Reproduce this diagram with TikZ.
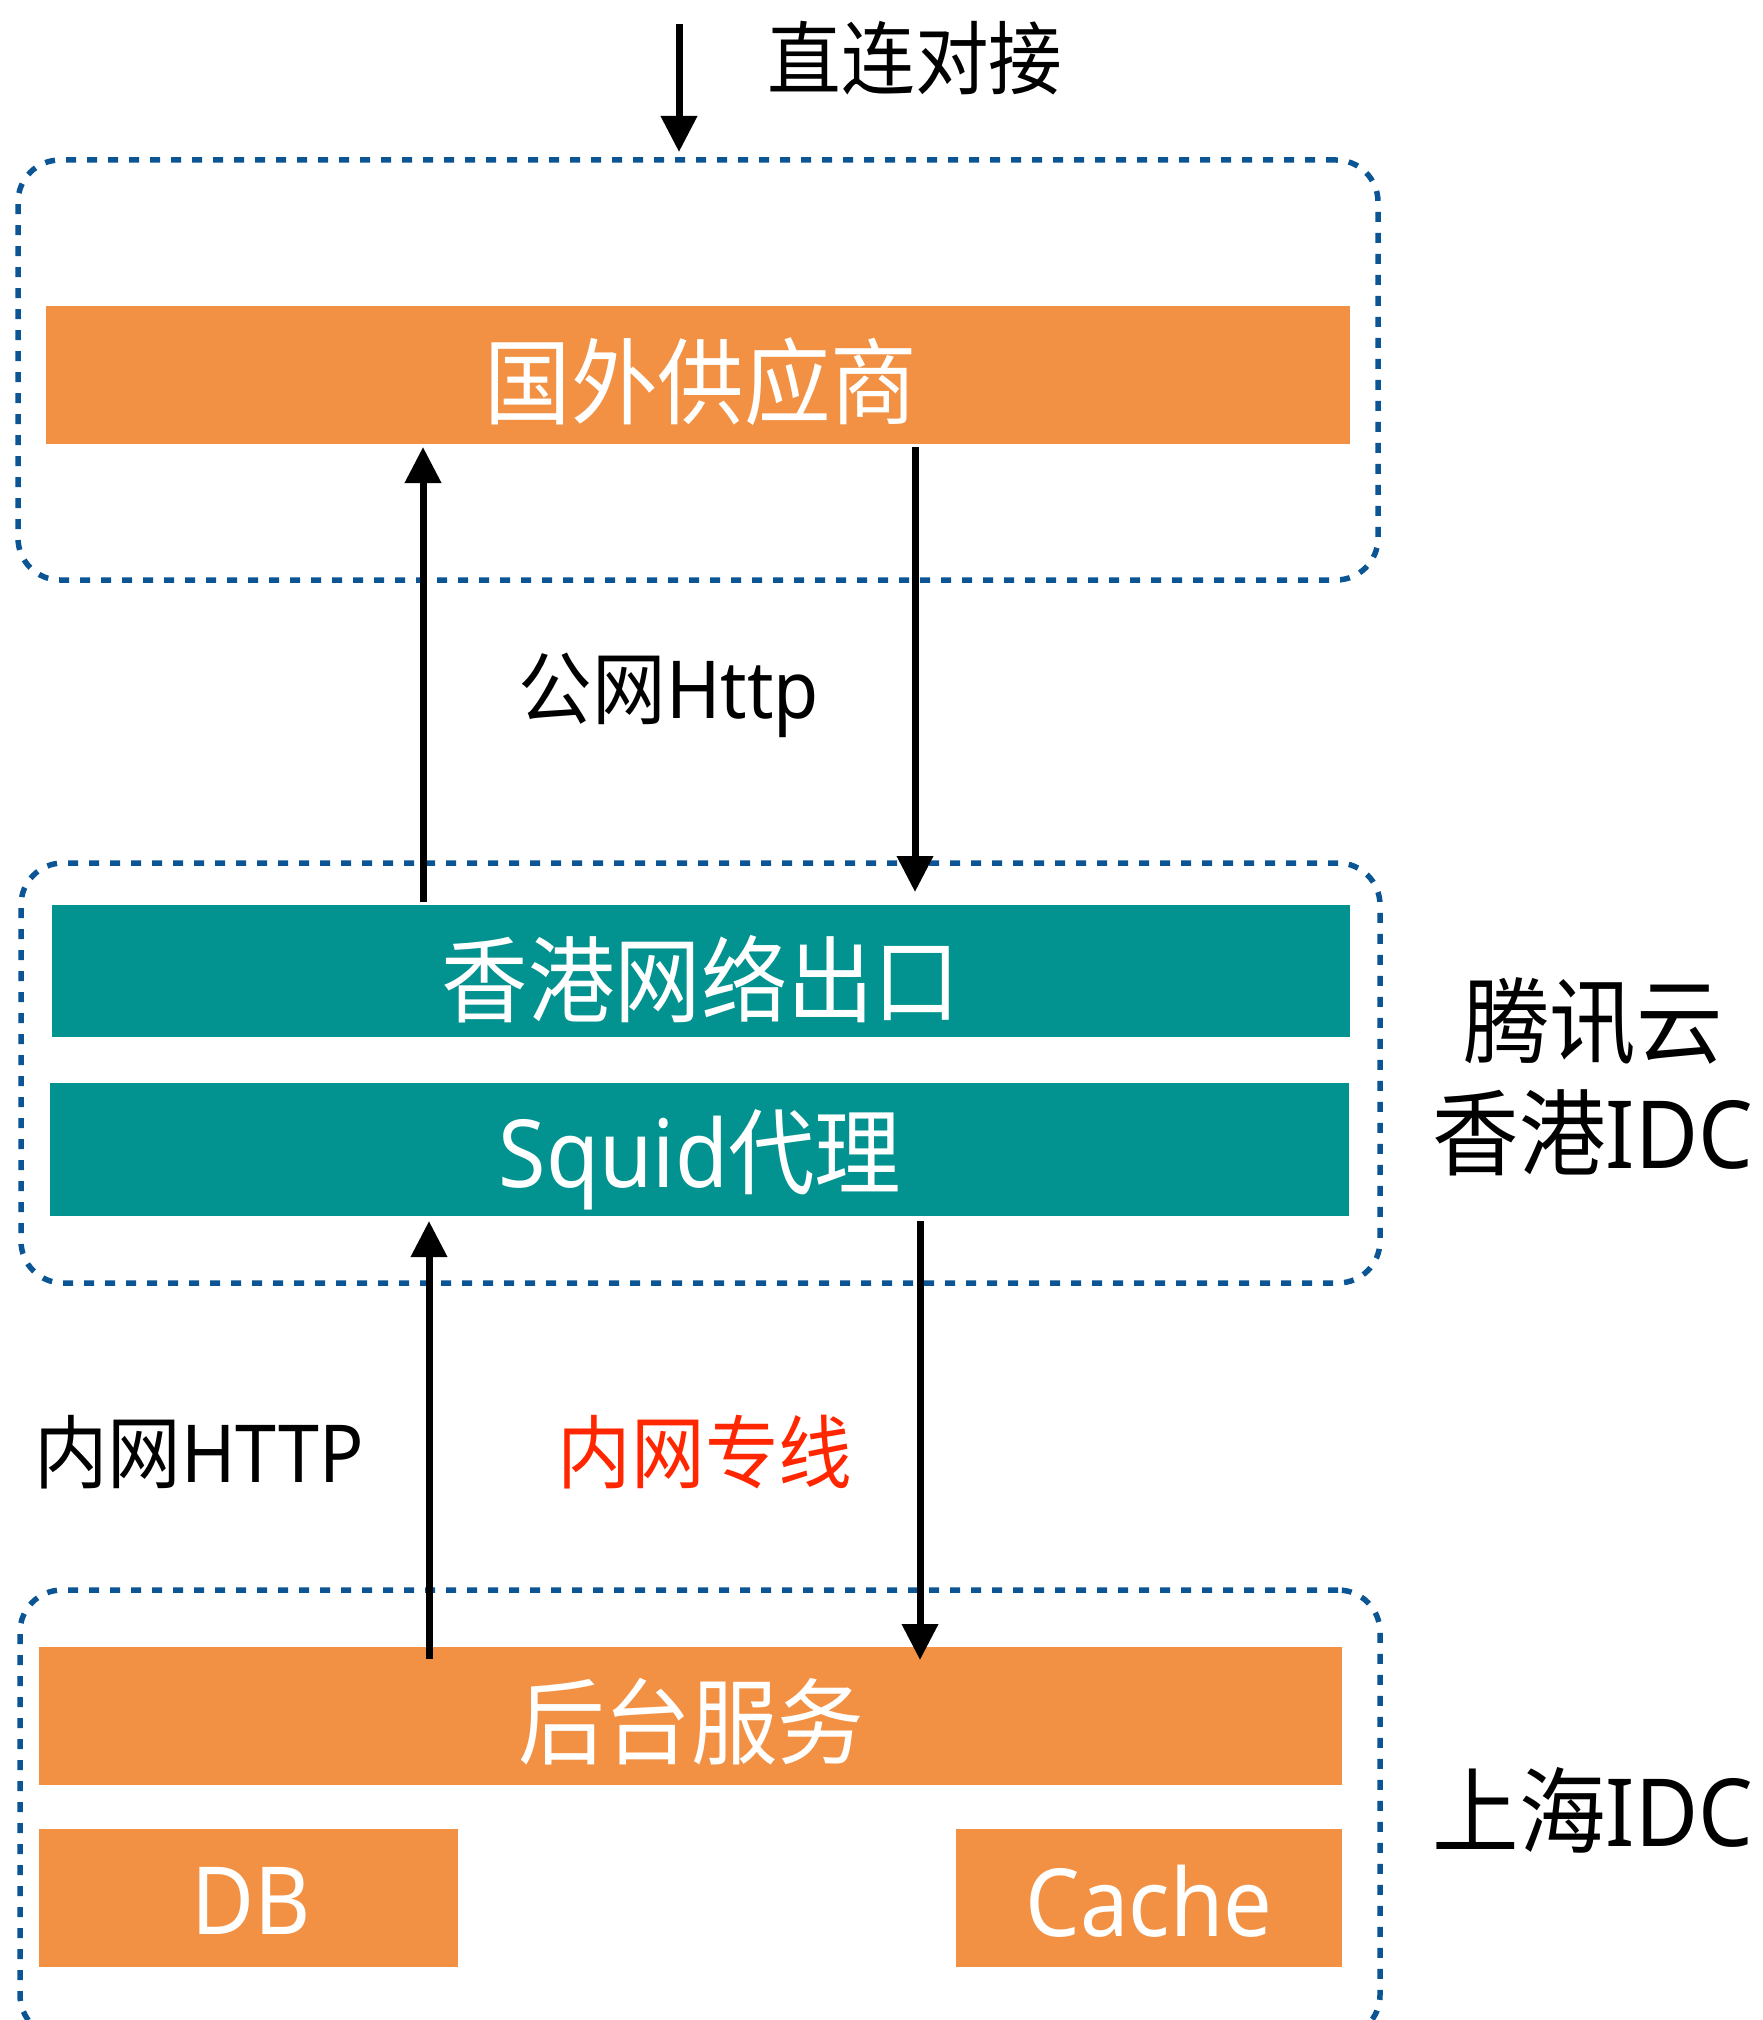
\documentclass[tikz,border=0pt]{standalone}
\usepackage{fontspec}
\setmainfont{Noto Sans}[FakeStretch=0.92]
\newfontfamily\cjk{Noto Sans CJK SC}[FakeStretch=0.92]
\usetikzlibrary{arrows.meta}
\definecolor{orangebar}{HTML}{F29143}
\definecolor{tealbar}{HTML}{02928F}
\definecolor{grpblue}{HTML}{0B5595}
\definecolor{redtxt}{HTML}{FF2600}
\tikzset{
  bar/.style={rectangle, inner sep=0pt, outer sep=0pt, anchor=north west},
  obar/.style={bar, fill=orangebar},
  tbar/.style={bar, fill=tealbar},
  grp/.style={rectangle, rounded corners=42pt, draw=grpblue, line width=5.5pt,
    dash pattern=on 10pt off 11pt, anchor=north west, inner sep=0pt, outer sep=0pt},
  big/.style={inner sep=0pt, font=\fontsize{94}{100}\selectfont},
  small/.style={inner sep=0pt, font=\fontsize{80}{86}\selectfont},
  arr/.style={line width=7pt, -{Triangle[length=36pt,width=35pt]}},
}
\begin{document}
\begin{tikzpicture}[x=1pt,y=-1pt]
\clip (0,0) rectangle (1762,2020);
% groups
\node[grp, minimum width=1360pt, minimum height=420pt] (g1) at (18,160) {};
\node[grp, minimum width=1359pt, minimum height=420pt] (g2) at (21,863) {};
\node[grp, minimum width=1360pt, minimum height=447pt] (g3) at (20,1590) {};
% bars
\node[obar, minimum width=1304pt, minimum height=138pt] (vendor) at (46,306) {};
\node[tbar, minimum width=1298pt, minimum height=132pt] (hk) at (52,905) {};
\node[tbar, minimum width=1299pt, minimum height=133pt] (squid) at (50,1083) {};
\node[obar, minimum width=1303pt, minimum height=138pt] (svc) at (39,1647) {};
\node[obar, minimum width=419pt, minimum height=138pt] (db) at (39,1829) {};
\node[obar, minimum width=386pt, minimum height=138pt] (cache) at (956,1829) {};
% texts
\node[small] (tdirect) at (915,58) {\cjk 直连对接};
\node[big, text=white] (tvendor) at (701,382) {\cjk 国外供应商};
\node[small] (tpub) at (669,695) {{\cjk 公网}Http};
\node[big, text=white] (thk) at (701,979) {\cjk 香港网络出口};
\node[big, text=white] (tsquid) at (700,1160) {Squid{\cjk 代理}};
\node[big] (ttc) at (1593,1022) {\cjk 腾讯云};
\node[big] (thkidc) at (1593,1133) {{\cjk 香港}IDC};
\node[small] (tinner) at (199,1452) {{\cjk 内网}HTTP};
\node[small, text=redtxt] (tline) at (705,1452) {\cjk 内网专线};
\node[big, text=white] (tsvc) at (691,1722) {\cjk 后台服务};
\node[big, text=white] (tdb) at (251,1901) {DB};
\node[big, text=white] (tcache) at (1149,1901) {Cache};
\node[big] (tsh) at (1593,1810) {{\cjk 上海}IDC};
% arrows
\coordinate (top) at (679,24);
\coordinate (x1) at (423,0);
\coordinate (x2) at (915,0);
\coordinate (x3) at (429,0);
\coordinate (x4) at (920,0);
\draw[arr, shorten >=8pt] (top) -- (g1.north -| top);
\draw[arr, shorten <=3pt, shorten >=3pt] (hk.north -| x1) -- (vendor.south -| x1);
\draw[arr, shorten <=3pt, shorten >=13pt] (vendor.south -| x2) -- (hk.north -| x2);
\draw[arr, shorten <=-12pt, shorten >=5pt] (svc.north -| x3) -- (squid.south -| x3);
\draw[arr, shorten <=5pt, shorten >=-13pt] (squid.south -| x4) -- (svc.north -| x4);
\end{tikzpicture}
\end{document}
